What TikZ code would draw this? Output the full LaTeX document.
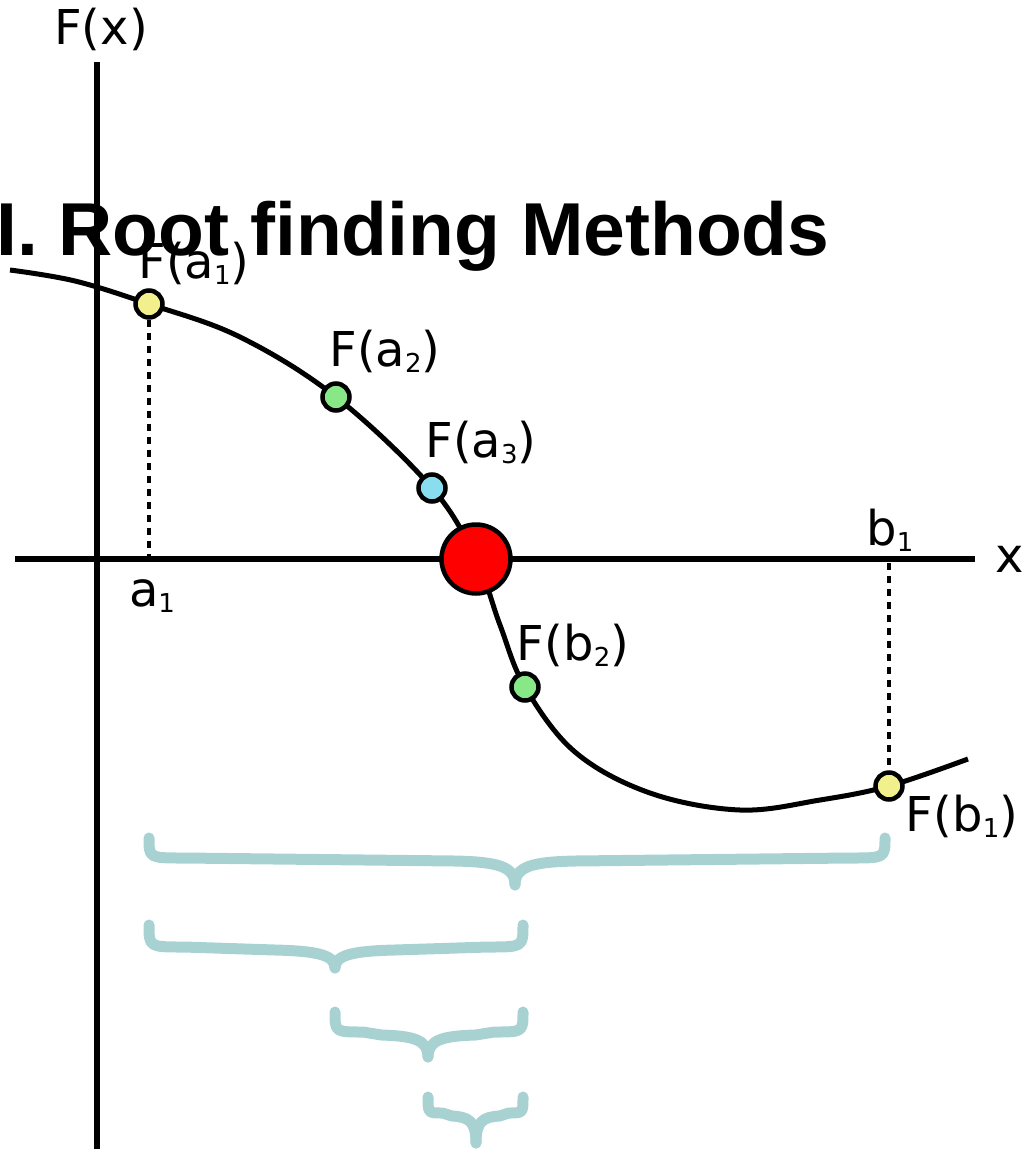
\documentclass[tikz,border=0pt]{standalone}
\usepackage{fontspec}
\setmainfont{DejaVu Sans}
\newfontfamily\titlefont{Liberation Sans}
\usetikzlibrary{positioning}
\definecolor{lowpt}{HTML}{F2F08C}
\definecolor{midpt}{HTML}{88E888}
\definecolor{nearpt}{HTML}{88DDEE}
\definecolor{bracecol}{HTML}{A8D2D2}
\tikzset{
  ax/.style={line width=5.5pt,black},
  cur/.style={line width=5pt,black},
  pt/.style={circle,draw=black,line width=4.5pt,minimum size=27pt,inner sep=0pt},
  root/.style={pt,fill=red,minimum size=69pt},
  drop/.style={line width=4.5pt,dash pattern=on 7pt off 6pt},
  lbl/.style={font=\fontsize{48}{52}\selectfont,inner sep=0pt},
  brc/.style={line width=11pt,bracecol,line cap=round,line join=round}
}
% small lowered index digit
\newcommand{\ix}[1]{\raisebox{-6pt}{\fontsize{26}{26}\selectfont #1}}
% one bracket: left x, right x, top y, tip x, tip depth, shoulder depth
\newcommand{\halving}[6]{%
  \draw[brc] (#1,#3) .. controls (#1,{#3+#6}) .. ({#1+min(35,0.3*(#4-#1))},{#3+#6})
    -- ({#4-min(60,0.5*(#4-#1))},{#3+#6+3}) .. controls ({#4-0.3*min(60,0.5*(#4-#1))},{#3+#6+4}) and (#4,{#3+#6+8}) .. (#4,{#3+#5});
  \draw[brc] (#2,#3) .. controls (#2,{#3+#6}) .. ({#2-min(35,0.3*(#2-#4))},{#3+#6})
    -- ({#4+min(60,0.5*(#2-#4))},{#3+#6+3}) .. controls ({#4+0.3*min(60,0.5*(#2-#4))},{#3+#6+4}) and (#4,{#3+#6+8}) .. (#4,{#3+#5});
}

\begin{document}
\begin{tikzpicture}[x=1pt,y=-1pt]
\useasboundingbox (0,0) rectangle (1024,1149);
% axes
\draw[ax] (97,62) -- (97,1149);
\draw[ax] (15,559) -- (975,559);
\node[lbl] (fx) at (101,29) {F(x)};
\node[lbl,anchor=base] (xl) at (1010,572) {x};

% curve
\coordinate (c0) at (10,270);
\coordinate (ca1) at (149,304);
\coordinate (ca2) at (336,397);
\coordinate (ca3) at (432,488);
\coordinate (cr) at (476,559);
\coordinate (cb2) at (525,687);
\coordinate (cb1) at (889,786);
\coordinate (c9) at (968,759);
\draw[cur] plot[smooth,tension=0.6] coordinates {(c0) (75,281) (ca1) (240,337) (ca2) (ca3) (cr) (500,625) (cb2) (575,752) (650,793) (740,810) (820,800) (cb1) (c9)};

% drop lines
\coordinate (ta1) at (149,556);
\coordinate (tb1) at (889,563);
\node[pt,fill=lowpt] (fa1) at (ca1) {};
\node[pt,fill=lowpt] (fb1) at (cb1) {};
\draw[drop] (fa1) -- (ta1);
\draw[drop] (tb1) -- (fb1);

% iterates
\node[pt,fill=midpt] (fa2) at (ca2) {};
\node[pt,fill=nearpt] (fa3) at (ca3) {};
\node[pt,fill=midpt] (fb2) at (cb2) {};
\node[root] (rt) at (cr) {};

% labels
\node[lbl] (la1) at (194,263) {F(a\ix{1})};
\node[lbl] (la2) at (385,351) {F(a\ix{2})};
\node[lbl] (la3) at (481,442) {F(a\ix{3})};
\node[lbl] (lb2) at (573,645) {F(b\ix{2})};
\node[lbl] (lb1) at (962,816) {F(b\ix{1})};
\node[lbl,anchor=base] (xa1) at (152,606) {a\ix{1}};
\node[lbl,anchor=base] (xb1) at (890,545) {b\ix{1}};

% brackets
\halving{149}{885}{838}{515}{47}{20}
\halving{149}{523}{925}{335}{43}{22}
\halving{335}{523}{1012}{428}{45}{20}
\halving{428}{523}{1097}{476}{46}{16}

% title
\node[font=\titlefont\bfseries\fontsize{75}{80}\selectfont,inner sep=0pt,anchor=base west] (title) at (-4,255) {I. Root finding Methods};
\end{tikzpicture}
\end{document}
